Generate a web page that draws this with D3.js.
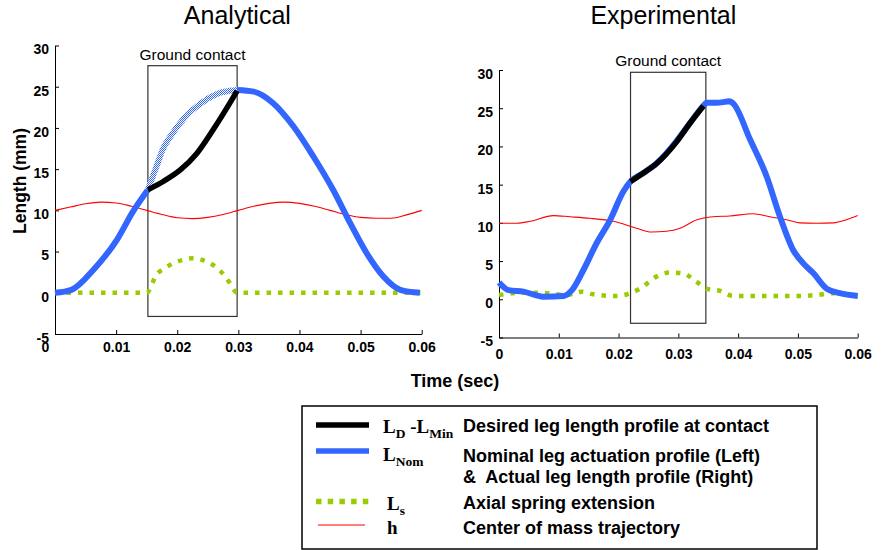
<!DOCTYPE html>
<html>
<head>
<meta charset="utf-8">
<script src="https://cdn.jsdelivr.net/npm/d3@7"></script>
<style>
  body { margin: 0; background: #fff; }
  svg text { font-family: "Liberation Sans", Arial, sans-serif; }
  .tick text { font-weight: bold; font-size: 14px; fill: #000; }
  .tick line, .domain { stroke: #000; stroke-width: 1px; }
  .serif { font-family: "Liberation Serif", "Times New Roman", serif !important; font-weight: bold; }
  .desc { white-space: pre; }
</style>
</head>
<body>
<svg id="chart" width="883" height="550"></svg>
<script>
// ---------- data ----------
const xTicks = [0, 0.01, 0.02, 0.03, 0.04, 0.05, 0.06];
const yTicks = [-5, 0, 5, 10, 15, 20, 25, 30];

// Analytical (left)
const anaContact = [0.0152, 0.0298];
const anaContactY = [-2.87, 27.55];
const anaNomBefore = [[0,0],[0.0027,0.36],[0.0063,2.8],[0.0101,6.4],[0.0128,9.9],[0.0152,12.5]];
const anaNomDuring = [[0.0152,12.5],[0.0165,15.1],[0.0177,17.5],[0.0191,19.2],[0.0205,20.6],[0.0218,21.7],
  [0.0232,22.6],[0.0245,23.3],[0.0259,23.9],[0.0272,24.3],[0.0286,24.5],[0.0298,24.6]];
const anaNomAfter = [[0.0298,24.6],[0.0325,24.4],[0.0357,23.0],[0.039,20.2],[0.0423,16.5],[0.0455,12.5],
  [0.0483,8.45],[0.051,4.8],[0.0537,2.0],[0.0565,0.36],[0.0597,0]];
const anaDesired = [[0.0152,12.5],[0.0177,13.5],[0.0205,14.9],[0.0232,16.9],[0.0259,19.8],[0.0286,23.0],[0.0298,24.5]];
const anaSpring = [[0,0],[0.015,0],[0.0166,2.2],[0.018,3.0],[0.0194,3.6],[0.021,4.0],[0.0226,4.2],[0.0244,3.9],
  [0.0262,3.2],[0.0276,2.2],[0.0286,1.2],[0.0298,0],[0.0598,0]];
const anaCom = [[0,10.0],[0.0025,10.4],[0.005,10.8],[0.0075,11.0],[0.01,10.9],[0.0125,10.5],[0.015,10.0],
  [0.0175,9.5],[0.02,9.1],[0.0225,9.0],[0.025,9.15],[0.0275,9.5],[0.03,10.0],[0.0325,10.5],[0.035,10.85],
  [0.0375,11.0],[0.04,10.85],[0.0425,10.5],[0.045,10.0],[0.0475,9.5],[0.05,9.15],[0.0525,9.05],[0.055,9.05],
  [0.0575,9.45],[0.06,10.0]];

// Experimental (right)
const expContact = [0.0220, 0.0346];
const expContactY = [-3.14, 29.7];
const expActual = [[0,2.2],[0.0016,1.2],[0.0041,1.0],[0.0074,0.34],[0.0108,0.43],[0.0122,1.2],[0.0141,3.8],
  [0.0163,7.3],[0.0186,10.4],[0.0208,14.1],[0.022,15.4],[0.0241,16.5],[0.0264,17.8],[0.0297,20.7],[0.0319,23.0],
  [0.0344,25.5],[0.0347,25.7],[0.0364,25.7],[0.0386,25.9],[0.0392,25.6],[0.042,20.9],[0.0448,16.0],[0.047,10.8],
  [0.0492,6.45],[0.0509,4.7],[0.0526,3.4],[0.0548,1.4],[0.057,0.8],[0.06,0.43]];
const expDesired = [[0.022,15.4],[0.0241,16.5],[0.0264,17.8],[0.0297,20.6],[0.0319,23.0],[0.0342,25.3]];
const expSpring = [[0,0.56],[0.0041,0.87],[0.008,0.8],[0.0113,0.56],[0.0138,1.0],[0.0158,0.65],[0.0197,0.43],
  [0.0219,0.78],[0.0236,1.4],[0.0264,3.0],[0.0286,3.5],[0.0308,3.4],[0.033,2.3],[0.0347,1.4],[0.037,1.1],
  [0.0392,0.43],[0.042,0.43],[0.05,0.43],[0.0531,0.56],[0.0559,0.8],[0.06,0.43]];
const expCom = [[0,9.95],[0.003,9.95],[0.0052,10.2],[0.0091,10.95],[0.0119,10.8],[0.0152,10.6],[0.0191,10.2],
  [0.023,9.3],[0.0255,8.8],[0.028,8.9],[0.0303,9.3],[0.0331,10.4],[0.0358,10.8],[0.0386,10.9],[0.0425,11.2],
  [0.0453,10.8],[0.0481,10.4],[0.0503,10.0],[0.0531,9.95],[0.0559,10.0],[0.0581,10.4],[0.06,10.95]];

const legendLabels = [
  "Desired leg length profile at contact",
  "Nominal leg actuation profile (Left)",
  "&  Actual leg length profile (Right)",
  "Axial spring extension",
  "Center of mass trajectory"
];

// ---------- drawing ----------
const BLUE = "#3366ff", GREEN = "#99cc00", RED = "#ff0000";
const svg = d3.select("#chart");

// checkered blue stroke used for the nominal profile during contact
const pat = svg.append("defs").append("pattern")
  .attr("id", "checker").attr("patternUnits", "userSpaceOnUse")
  .attr("width", 2).attr("height", 2);
pat.append("rect").attr("width", 2).attr("height", 2).attr("fill", "#fff");
pat.append("rect").attr("width", 1).attr("height", 1).attr("fill", BLUE);
pat.append("rect").attr("x", 1).attr("y", 1).attr("width", 1).attr("height", 1).attr("fill", BLUE);

function panel(opts) {
  const x = d3.scaleLinear().domain([0, 0.06]).range(opts.xr);
  const y = d3.scaleLinear().domain([-5, 30]).range(opts.yr);
  const g = svg.append("g");
  const line = d3.line().x(d => x(d[0])).y(d => y(d[1])).curve(d3.curveMonotoneX);

  g.append("text").attr("x", (opts.xr[0] + opts.xr[1]) / 2 + opts.titleDx).attr("y", 24)
    .attr("text-anchor", "middle").style("font-size", "25px").text(opts.title);

  // contact box
  g.append("rect")
    .attr("x", x(opts.contact[0])).attr("y", y(opts.contactY[1]))
    .attr("width", x(opts.contact[1]) - x(opts.contact[0]))
    .attr("height", y(opts.contactY[0]) - y(opts.contactY[1]))
    .attr("fill", "none").attr("stroke", "#333").attr("stroke-width", 1.2);
  g.append("text").attr("x", (x(opts.contact[0]) + x(opts.contact[1])) / 2)
    .attr("y", y(opts.contactY[1]) - 6).attr("text-anchor", "middle")
    .style("font-size", "15.5px").text("Ground contact");

  // axes
  const ax = g.append("g").attr("transform", `translate(0,${opts.yr[0]})`)
    .call(d3.axisBottom(x).tickValues(xTicks).tickFormat(d => d === 0 ? "0" : d3.format(".2f")(d))
      .tickSizeInner(-4).tickSizeOuter(0).tickPadding(opts.xPad));
  if (opts.zeroDx) ax.selectAll(".tick text").filter(d => d === 0).attr("dx", opts.zeroDx);
  g.append("g").attr("transform", `translate(${opts.xr[0]},0)`)
    .call(d3.axisLeft(y).tickValues(yTicks).tickFormat(d => String(d))
      .tickSizeInner(-4).tickSizeOuter(0).tickPadding(6))
    .selectAll(".tick text").attr("dy", "0.6em");

  const lw = (sel, c, w) => sel.attr("fill", "none").attr("stroke", c).attr("stroke-width", w)
    .attr("stroke-linejoin", "round");

  lw(g.append("path").attr("d", line(opts.com)), RED, 1.1);
  lw(g.append("path").attr("d", line(opts.spring)), GREEN, 4.5).attr("stroke-dasharray", "4.5,7");
  opts.nomSolid.forEach(s => lw(g.append("path").attr("d", line(s)), BLUE, 6));
  if (opts.nomChecker) lw(g.append("path").attr("d", line(opts.nomChecker)), "url(#checker)", 6);
  lw(g.append("path").attr("d", line(opts.desired)), "#000", 5.5);
}

panel({
  title: "Analytical", titleDx: -1, xr: [55, 421.7], yr: [334, 45.5], xPad: 8, zeroDx: -10,
  contact: anaContact, contactY: anaContactY, com: anaCom, spring: anaSpring,
  nomSolid: [anaNomBefore, anaNomAfter], nomChecker: anaNomDuring, desired: anaDesired
});
panel({
  title: "Experimental", titleDx: -15, xr: [499, 857.7], yr: [337.5, 70], xPad: 12,
  contact: expContact, contactY: expContactY, com: expCom, spring: expSpring,
  nomSolid: [expActual], nomChecker: null, desired: expDesired
});

// axis titles
svg.append("text").attr("transform", "translate(26,181) rotate(-90)").attr("text-anchor", "middle")
  .style("font-size", "17.5px").style("font-weight", "bold").text("Length (mm)");
svg.append("text").attr("x", 455).attr("y", 387).attr("text-anchor", "middle")
  .style("font-size", "18px").style("font-weight", "bold").text("Time (sec)");

// legend
const lg = svg.append("g");
lg.append("rect").attr("x", 302).attr("y", 406).attr("width", 515).attr("height", 143)
  .attr("fill", "none").attr("stroke", "#000").attr("stroke-width", 1.5);
lg.append("line").attr("x1", 316).attr("x2", 369).attr("y1", 425).attr("y2", 425)
  .attr("stroke", "#000").attr("stroke-width", 5.5);
lg.append("line").attr("x1", 316).attr("x2", 369).attr("y1", 451).attr("y2", 451)
  .attr("stroke", BLUE).attr("stroke-width", 5.5);
lg.append("line").attr("x1", 316).attr("x2", 370).attr("y1", 501.5).attr("y2", 501.5)
  .attr("stroke", GREEN).attr("stroke-width", 5.5).attr("stroke-dasharray", "5.5,6.2");
lg.append("line").attr("x1", 318).attr("x2", 365).attr("y1", 525).attr("y2", 525)
  .attr("stroke", RED).attr("stroke-width", 1.2);

const sym = [
  { x: 383, y: 433, parts: [["L", 0], ["D", 5], [" -L", -5], ["Min", 5]] },
  { x: 383, y: 461, parts: [["L", 0], ["Nom", 5]] },
  { x: 387, y: 510, parts: [["L", 0], ["s", 5]] },
  { x: 387, y: 534, parts: [["h", 0]] }
];
sym.forEach(s => {
  const t = lg.append("text").attr("class", "serif").attr("x", s.x).attr("y", s.y)
    .style("font-size", "19px").style("white-space", "pre");
  s.parts.forEach(p => t.append("tspan").attr("dy", p[1])
    .style("font-size", p[1] > 0 ? "13.5px" : "19px").text(p[0]));
});

const descY = [432, 461.5, 483, 509, 534];
lg.selectAll("text.desc").data(legendLabels).join("text").attr("class", "desc")
  .attr("x", 463).attr("y", (d, i) => descY[i])
  .style("font-size", "18px").style("font-weight", "bold").text(d => d);
</script>
</body>
</html>
